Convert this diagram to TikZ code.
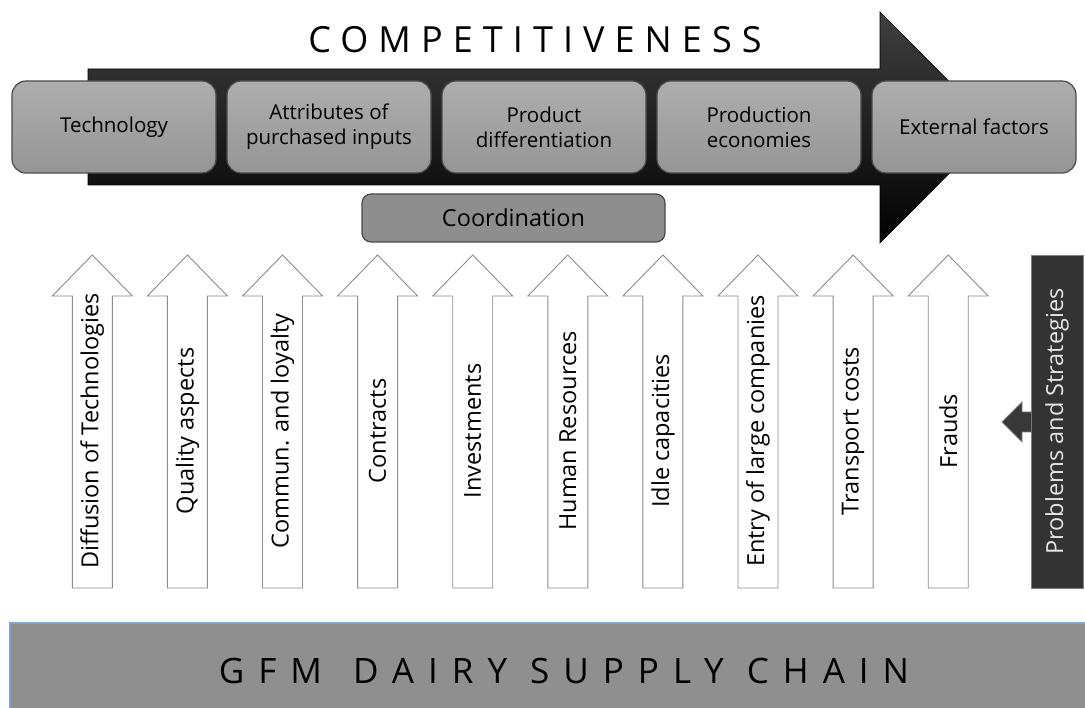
\documentclass[tikz,border=0pt]{standalone}
\usepackage{fontspec}
\setmainfont{Open Sans}
\definecolor{boxtop}{HTML}{AEAEAE}
\definecolor{boxbot}{HTML}{959595}
\definecolor{boxline}{HTML}{4A4A4A}
\definecolor{coordfill}{HTML}{8E8E8E}
\definecolor{arrline}{HTML}{8C8C8C}
\definecolor{psfill}{HTML}{333333}
\definecolor{bandfill}{HTML}{8F8F8F}
\definecolor{bandline}{HTML}{7EA6CC}

\begin{document}
\begin{tikzpicture}[x=1pt,y=-1pt,
  stage/.style={draw=boxline,line width=1.2pt,rounded corners=14pt,top color=boxtop,bottom color=boxbot,
    minimum width=204pt,minimum height=92pt,align=center,font=\fontsize{20.5}{25}\selectfont},
  uparr/.style={draw=arrline,fill=white,line width=0.9pt},
  plabel/.style={rotate=90,font=\fontsize{23.5}{26}\selectfont},
  title/.style={font=\fontsize{36}{40}\selectfont\addfontfeatures{LetterSpace=28}}]
  \useasboundingbox (0,0) rectangle (1085,708);
  \shade[top color=black!75,bottom color=black,draw=black,line width=0.6pt]
    (88,69) -- (880,69) -- (880,12) -- (995,127.5) -- (880,243) -- (880,185) -- (88,185) -- cycle;
  \node[title,anchor=base] (comp) at (535,53) {COMPETITIVENESS};
  \node[stage] (tech) at (114,127) {Technology};
  \node[stage] (attr) at (329,127) {Attributes of\\purchased inputs};
  \node[stage] (diff) at (544,127) {Product\\differentiation};
  \node[stage] (econ) at (759,127) {Production\\economies};
  \node[stage] (ext) at (974,127) {External factors};
  \node[draw=boxline,line width=1.2pt,rounded corners=9pt,fill=coordfill,minimum width=303pt,minimum height=48pt,
    font=\fontsize{23.5}{26}\selectfont] (coord) at (513.5,218) {Coordination};
  \foreach \lbl [count=\i] in {Diffusion of Technologies,Quality aspects,Commun. and loyalty,Contracts,Investments,
      Human Resources,Idle capacities,Entry of large companies,Transport costs,Frauds} {
    \pgfmathsetmacro\px{-2.8+95.1*\i}
    \draw[uparr] (\px-20,588) -- (\px-20,296) -- (\px-40,296) -- (\px,255) -- (\px+40,296) -- (\px+20,296) -- (\px+20,588) -- cycle;
    \node[plabel] (p\i) at (\px,431) {\lbl};
  }
  \node[draw=gray,fill=psfill,text=black!10,line width=0.8pt,rotate=90,minimum width=333pt,minimum height=52pt,
    font=\fontsize{23.5}{26}\selectfont] (ps) at (1057,421.5) {Problems and Strategies};
  \filldraw[fill=black!78,draw=gray,line width=0.8pt] (1031,432) -- (1022,432) -- (1022,442) -- (1002,422)
    -- (1022,402) -- (1022,412) -- (1031,412);
  \node[draw=bandline,fill=bandfill,line width=1.5pt,minimum width=1080pt,minimum height=92pt,anchor=north west,
    inner sep=0pt] (band) at (9,622) {};
  \node[font=\fontsize{35}{40}\selectfont\addfontfeatures{LetterSpace=40},anchor=base] (gfm) at (564,683)
    {GFM\hspace{8pt} DAIRY SUPPLY CHAIN};
\end{tikzpicture}
\end{document}
